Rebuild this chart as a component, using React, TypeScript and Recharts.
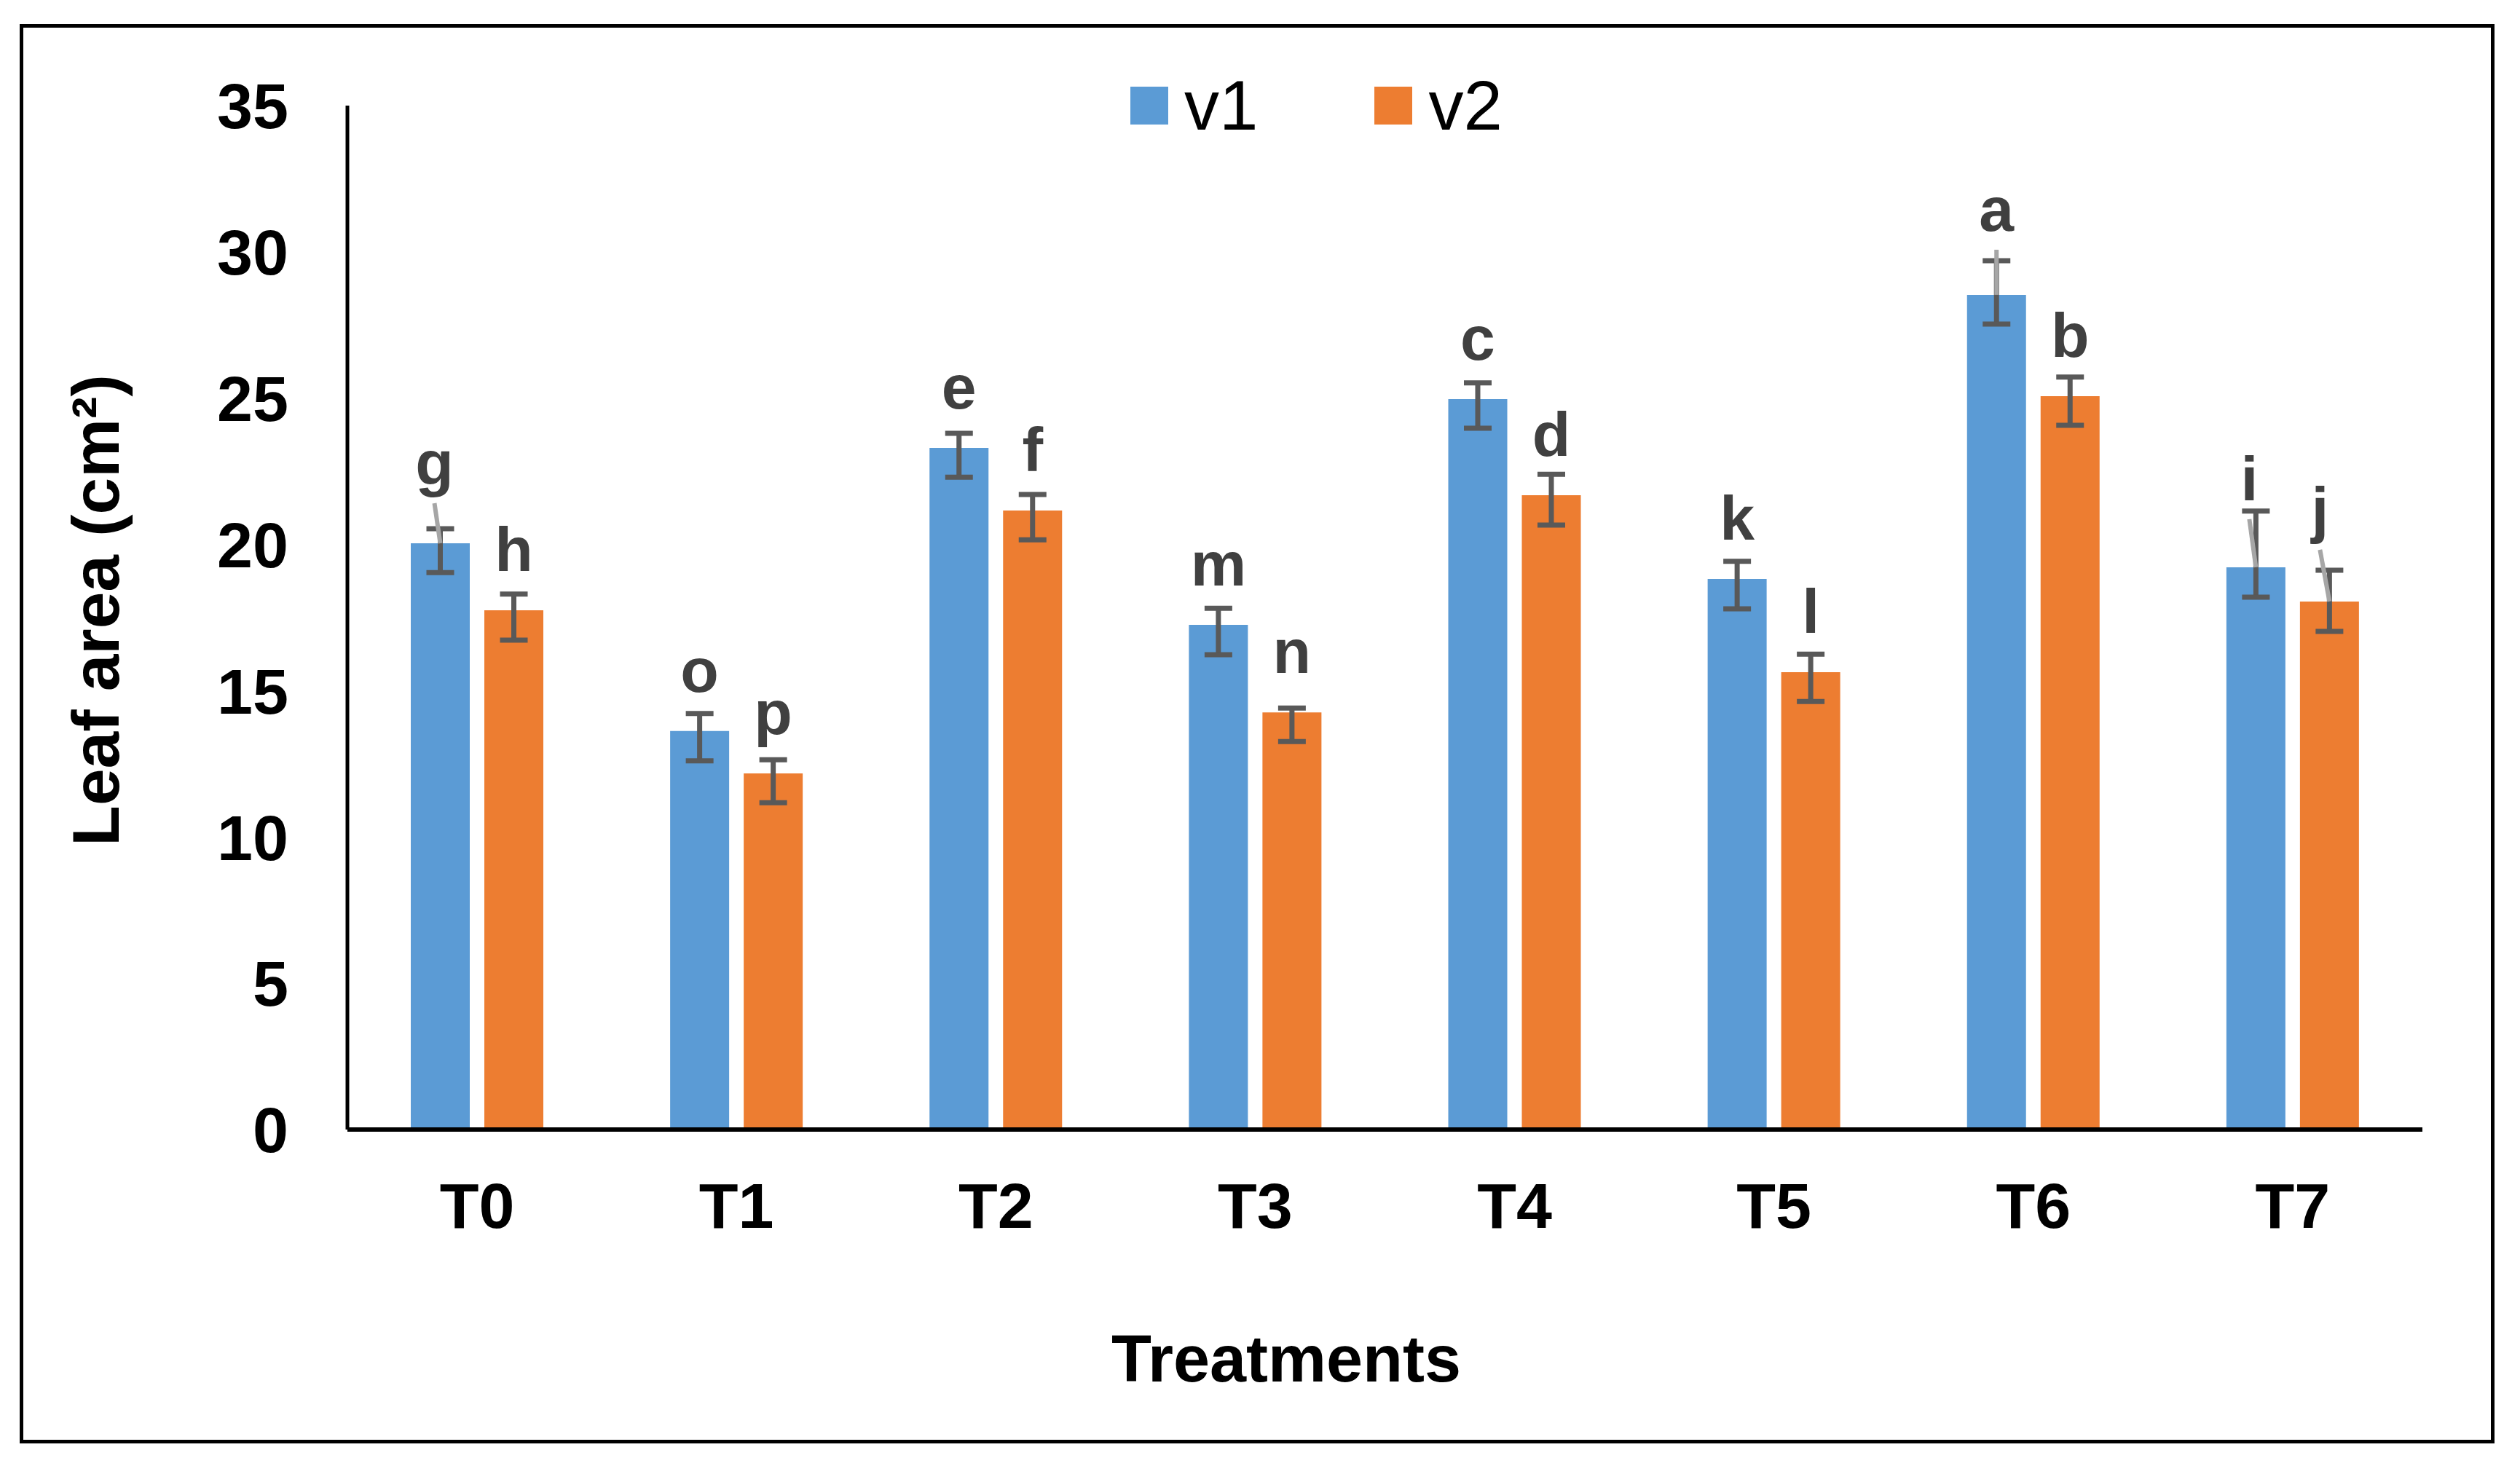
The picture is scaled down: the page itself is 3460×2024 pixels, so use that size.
import React from "react";
import { BarChart, Bar, XAxis, YAxis, ErrorBar, LabelList, Legend, Label } from "recharts";

// values
const treatments = ["T0", "T1", "T2", "T3", "T4", "T5", "T6", "T7"];
const v1Values = [20.04, 13.62, 23.3, 17.25, 24.97, 18.82, 28.53, 19.22];
const v2Values = [17.75, 12.17, 21.16, 14.26, 21.68, 15.63, 25.07, 18.05];
const v1ErrUp = [0.5, 0.6, 0.5, 0.57, 0.55, 0.6, 1.17, 1.92];
const v1ErrDown = [1.0, 1.02, 1.0, 1.02, 1.0, 1.02, 1.0, 1.02];
const v2ErrUp = [0.55, 0.47, 0.55, 0.15, 0.72, 0.62, 0.65, 1.07];
const v2ErrDown = [1.02, 1.0, 1.0, 1.0, 1.02, 1.0, 1.0, 1.02];
const v1Letters = ["g", "o", "e", "m", "c", "k", "a", "i"];
const v2Letters = ["h", "p", "f", "n", "d", "l", "b", "j"];
const yTicks = [0, 5, 10, 15, 20, 25, 30, 35];

const data = treatments.map((t, i) => ({
  treatment: t,
  v1: v1Values[i],
  v2: v2Values[i],
  v1Err: [v1ErrDown[i], v1ErrUp[i]],
  v2Err: [v2ErrDown[i], v2ErrUp[i]],
  v1Letter: v1Letters[i],
  v2Letter: v2Letters[i],
}));

const BLUE = "#5B9BD5";
const ORANGE = "#ED7D31";
const FONT = "'Liberation Sans', Arial, sans-serif";

// letters that were pulled away from their bar, with a leader line back
const nudges: Record<string, { dx: number; dy: number }> = {
  g: { dx: -8, dy: -27 },
  a: { dx: 0, dy: -34 },
  i: { dx: -9, dy: -38 },
  j: { dx: -13, dy: -43 },
};

function LetterLabel(props: any) {
  const vb = props.viewBox ?? {};
  const x = props.x ?? vb.x;
  const y = props.y ?? vb.y;
  const width = props.width ?? vb.width;
  const letter = String(props.value);
  const cx = x + width / 2;
  const n = nudges[letter];
  const tx = cx + (n ? n.dx : 0);
  const ty = y - 54 + (n ? n.dy : 0);
  return (
    <g>
      {n && <line x1={tx} y1={ty + 26} x2={cx} y2={y} stroke="#A6A6A6" strokeWidth={6} />}
      <text x={tx} y={ty} textAnchor="middle" fontFamily={FONT} fontWeight="bold" fontSize={86} fill="#404040">
        {letter}
      </text>
    </g>
  );
}

function renderLegend(props: any) {
  const items = props.payload ?? [];
  return (
    <div style={{ display: "flex", alignItems: "center", fontFamily: FONT, fontSize: 96, lineHeight: 1 }}>
      {items.map((it: any, i: number) => (
        <div key={it.value} style={{ display: "flex", alignItems: "center", marginLeft: i === 0 ? 0 : 160 }}>
          <div style={{ width: 52, height: 52, background: it.color, marginRight: 22 }} />
          <span style={{ color: "#000" }}>{it.value}</span>
        </div>
      ))}
    </div>
  );
}

export default function App() {
  return (
    <div style={{ position: "absolute", left: 0, top: 0, width: 3460, height: 2024, background: "#fff" }}>
      <div
        style={{
          position: "absolute",
          left: 27,
          top: 33,
          width: 3425 - 27,
          height: 1982 - 33,
          border: "5px solid #000",
          boxSizing: "border-box",
        }}
      />
      <div style={{ position: "absolute", left: 0, top: 0 }}>
        <BarChart
          width={3460}
          height={2024}
          data={data}
          margin={{ top: 145, right: 134, left: 177, bottom: 373 }}
          barSize={81}
          barGap={20}
        >
          <XAxis
            dataKey="treatment"
            height={100}
            tickLine={false}
            tickSize={0}
            tickMargin={73}
            axisLine={{ stroke: "#000", strokeWidth: 6 }}
            tick={{ fontFamily: FONT, fontWeight: "bold", fontSize: 88, fill: "#000" }}
          >
            <Label
              content={() => (
                <text x={1766} y={1897} textAnchor="middle" fontFamily={FONT} fontWeight="bold" fontSize={90} fill="#000">
                  Treatments
                </text>
              )}
            />
          </XAxis>
          <YAxis
            width={300}
            domain={[0, 35]}
            ticks={yTicks}
            interval={0}
            tickLine={false}
            tickSize={0}
            tickMargin={81}
            axisLine={{ stroke: "#000", strokeWidth: 5 }}
            tick={{ fontFamily: FONT, fontWeight: "bold", fontSize: 88, fill: "#000" }}
          >
            <Label
              content={() => (
                <text
                  x={163}
                  y={838}
                  transform="rotate(-90 163 838)"
                  textAnchor="middle"
                  fontFamily={FONT}
                  fontWeight="bold"
                  fontSize={91}
                  fill="#000"
                >
                  Leaf area (cm²)
                </text>
              )}
            />
          </YAxis>
          <Legend
            layout="vertical"
            align="center"
            verticalAlign="middle"
            content={renderLegend}
            wrapperStyle={{ left: 1552, top: 97, width: 700, height: 110 }}
          />
          <Bar dataKey="v1" name="v1" fill={BLUE} isAnimationActive={false}>
            <ErrorBar dataKey="v1Err" width={19} stroke="#595959" strokeWidth={7} direction="y" />
            <LabelList dataKey="v1Letter" content={LetterLabel} />
          </Bar>
          <Bar dataKey="v2" name="v2" fill={ORANGE} isAnimationActive={false}>
            <ErrorBar dataKey="v2Err" width={19} stroke="#595959" strokeWidth={7} direction="y" />
            <LabelList dataKey="v2Letter" content={LetterLabel} />
          </Bar>
        </BarChart>
      </div>
    </div>
  );
}
